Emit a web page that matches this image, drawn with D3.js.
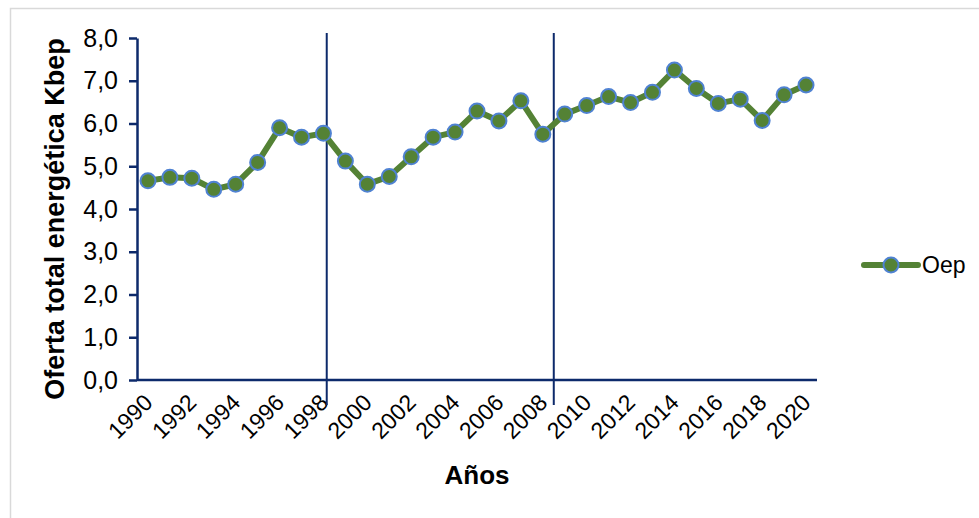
<!DOCTYPE html>
<html>
<head>
<meta charset="utf-8">
<script src="https://cdn.jsdelivr.net/npm/d3@7"></script>
<style>
  body { margin: 0; background: #fff; }
  svg { display: block; font-family: "Liberation Sans", Arial, sans-serif; }
</style>
</head>
<body>
<div id="chart"></div>
<script>
// Years (categories) and supply values
const years = [1990, 1991, 1992, 1993, 1994, 1995, 1996, 1997, 1998, 1999,
    2000, 2001, 2002, 2003, 2004, 2005, 2006, 2007, 2008, 2009,
    2010, 2011, 2012, 2013, 2014, 2015, 2016, 2017, 2018, 2019, 2020];
const oep = [4.66, 4.74, 4.72, 4.46, 4.58, 5.09, 5.90, 5.68, 5.77, 5.12,
    4.58, 4.76, 5.22, 5.68, 5.80, 6.29, 6.06, 6.53, 5.75, 6.22,
    6.42, 6.63, 6.49, 6.73, 7.25, 6.82, 6.47, 6.57, 6.07, 6.67, 6.90];
const yTicks = [0, 1, 2, 3, 4, 5, 6, 7, 8];
const xTickLabels = [1990, 1992, 1994, 1996, 1998, 2000, 2002, 2004, 2006, 2008,
    2010, 2012, 2014, 2016, 2018, 2020];
// period separators (fractional year positions)
const dividers = [1998.15, 2008.5];
const seriesName = "Oep";

const W = 979, H = 518;
const plot = { left: 137, right: 817, top: 38, bottom: 380 };
const navy = "#0d2a6b", green = "#548235", markerEdge = "#4f82d2";

const svg = d3.select("#chart").append("svg")
    .attr("width", W)
    .attr("height", H);

// light chart frame
svg.append("rect")
    .attr("x", 10.5).attr("y", 8.5)
    .attr("width", W + 20).attr("height", H + 20)
    .attr("fill", "none")
    .attr("stroke", "#d9d9d9")
    .attr("stroke-width", 1.5);

const x = d3.scalePoint()
    .domain(years)
    .range([plot.left, plot.right])
    .padding(0.5);

// continuous version of the category axis for the dividers
const xYear = d3.scaleLinear()
    .domain([years[0] - 0.5, years[years.length - 1] + 0.5])
    .range([plot.left, plot.right]);

const y = d3.scaleLinear()
    .domain([0, 8])
    .range([plot.bottom, plot.top]);

const fmt = d => d.toFixed(1).replace(".", ",");

// y axis
const yAxis = svg.append("g")
    .attr("transform", `translate(${plot.left},0)`)
    .call(d3.axisLeft(y).tickValues(yTicks).tickFormat(fmt).tickSize(8).tickSizeOuter(0).tickPadding(11));
yAxis.select(".domain").attr("stroke", navy).attr("stroke-width", 2.5);
yAxis.selectAll(".tick line").attr("stroke", navy).attr("stroke-width", 2.5);
yAxis.selectAll(".tick text")
    .attr("fill", "#000")
    .style("font-size", "25px");

// x axis line
svg.append("line")
    .attr("x1", plot.left).attr("x2", plot.right)
    .attr("y1", y(0)).attr("y2", y(0))
    .attr("stroke", navy)
    .attr("stroke-width", 2.5);

// x tick labels, rotated
svg.append("g")
    .selectAll("text")
    .data(xTickLabels)
    .join("text")
    .attr("transform", d => `translate(${x(d) + 6},${y(0) + 24}) rotate(-45)`)
    .attr("text-anchor", "end")
    .style("font-size", "23px")
    .attr("fill", "#000")
    .text(d => d);

// dividers
svg.append("g")
    .selectAll("line")
    .data(dividers)
    .join("line")
    .attr("x1", d => xYear(d)).attr("x2", d => xYear(d))
    .attr("y1", y(8) - 5).attr("y2", y(0) + 25)
    .attr("stroke", navy)
    .attr("stroke-width", 2);

// series line + markers
const line = d3.line()
    .x((d, i) => x(years[i]))
    .y(d => y(d));

svg.append("path")
    .datum(oep)
    .attr("d", line)
    .attr("fill", "none")
    .attr("stroke", green)
    .attr("stroke-width", 6)
    .attr("stroke-linejoin", "round");

svg.append("g")
    .selectAll("circle")
    .data(oep)
    .join("circle")
    .attr("cx", (d, i) => x(years[i]))
    .attr("cy", d => y(d))
    .attr("r", 7.5)
    .attr("fill", green)
    .attr("stroke", markerEdge)
    .attr("stroke-width", 2);

// axis titles
svg.append("text")
    .attr("x", 477).attr("y", 484)
    .attr("text-anchor", "middle")
    .style("font-size", "26px")
    .style("font-weight", "bold")
    .text("Años");

svg.append("text")
    .attr("transform", `translate(64,${(plot.top + plot.bottom) / 2 + 10}) rotate(-90)`)
    .attr("text-anchor", "middle")
    .style("font-size", "27px")
    .style("font-weight", "bold")
    .text("Oferta total energética Kbep");

// legend
const legend = svg.append("g").attr("transform", "translate(864,265)");
legend.append("line")
    .attr("x1", 0).attr("x2", 54)
    .attr("stroke", green)
    .attr("stroke-width", 6)
    .attr("stroke-linecap", "round");
legend.append("circle")
    .attr("cx", 27).attr("r", 7.5)
    .attr("fill", green)
    .attr("stroke", markerEdge)
    .attr("stroke-width", 2);
legend.append("text")
    .attr("x", 58).attr("dy", "0.36em")
    .style("font-size", "23px")
    .text(seriesName);
</script>
</body>
</html>
